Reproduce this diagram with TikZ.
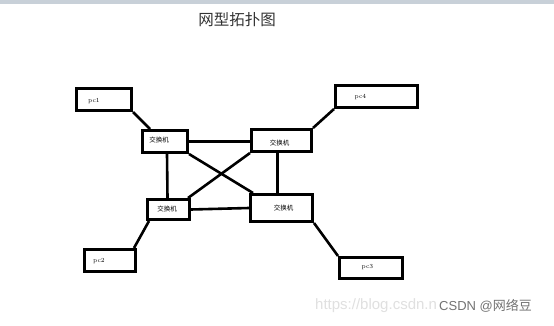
\documentclass[tikz,border=0pt]{standalone}
\usepackage{fontspec}
\newfontfamily\cjk{Noto Sans CJK SC}
\newfontfamily\wm{Liberation Sans}
\definecolor{banda}{RGB}{200,208,216}
\begin{document}
\begin{tikzpicture}[
    x=1pt, y=-1pt,
    box/.style={draw, line width=2.6pt, inner sep=0pt},
    lk/.style={line width=2.6pt},
    sw/.style={font=\cjk\fontsize{6.5}{7}\selectfont, inner sep=0pt},
    pc/.style={font=\fontsize{6.2}{7}\selectfont, inner sep=0pt},
    wmk/.style={font=\wm\fontsize{13}{14}\selectfont, anchor=west, inner sep=0pt},
  ]
  \useasboundingbox[fill=white] (0,0) rectangle (554,326);

  % --- banda grigia in alto e titolo ---
  \fill[banda] (0,0) rectangle (554,4);
  \node[font=\cjk\fontsize{15.5}{16}\selectfont, text=black!80] (titolo) at (237,20) {网型拓扑图};

  % --- switch ---
  \node[box, minimum width=45.4, minimum height=22.4] (s1) at (165,141.5) {};
  \node[box, minimum width=60.4, minimum height=22.4] (s2) at (281.5,140.5) {};
  \node[box, minimum width=42.4, minimum height=20.4] (s3) at (168.5,209.5) {};
  \node[box, minimum width=62.4, minimum height=27.4] (s4) at (281.5,208) {};
  \node[sw] (s1t) at (159,140) {交换机};
  \node[sw] (s2t) at (279.5,143) {交换机};
  \node[sw] (s3t) at (167,209) {交换机};
  \node[sw] (s4t) at (283.5,208) {交换机};

  % --- pc ---
  \node[box, minimum width=55.4, minimum height=22.4] (pc1) at (104,99.5) {};
  \node[box, minimum width=82.4, minimum height=22.4] (pc4) at (376.5,96.5) {};
  \node[box, minimum width=51.4, minimum height=22.4] (pc2) at (110,260.5) {};
  \node[box, minimum width=63.4, minimum height=21.4] (pc3) at (371,268) {};
  \node[pc] (pc1t) at (94,101) {pc1};
  \node[pc] (pc4t) at (360.5,97) {pc4};
  \node[pc] (pc2t) at (99,261) {pc2};
  \node[pc] (pc3t) at (367.5,267) {pc3};

  % --- collegamenti pc -- switch ---
  \draw[lk] (pc1.south east) -- ([xshift=9pt]s1.north west);
  \draw[lk] (pc4.south west) -- (s2.north east);
  \draw[lk] ([xshift=3pt]s3.south west) -- ([xshift=-3pt]pc2.north east);
  \draw[lk] (s4.south east) -- (pc3.north west);

  % --- maglia tra gli switch ---
  \draw[lk] (s1.east) -- (s1.east -| s2.west);
  \draw[lk] (s3.east) -- (s4.west);
  \draw[lk] ([xshift=2pt]s1.south) -- ([xshift=-1pt]s3.north);
  \draw[lk] ([xshift=-4pt]s2.south) -- ([xshift=-4pt]s2.south |- s4.north);
  \draw[lk] (s1.south east) -- ([xshift=4pt]s4.north west);
  \draw[lk] (s2.south west) -- ([xshift=-3pt]s3.north east);

  % --- filigrana ---
  \node[wmk, text=black!12, font=\wm\fontsize{15}{16}\selectfont] (url) at (315,306) {https://blog.csdn.n};
  \node[wmk, text=black!55] (firma) at (439,306) {CSDN @{\cjk 网络豆}};

\end{tikzpicture}
\end{document}
